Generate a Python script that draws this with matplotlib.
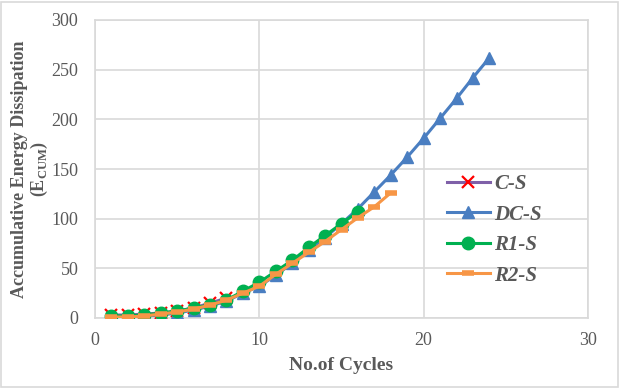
import matplotlib
matplotlib.use("Agg")
import matplotlib.pyplot as plt

cycles_cs = [1, 2, 3, 4, 5, 6, 7, 8]
cs = [3, 3, 4, 5, 7, 10, 15, 20]

cycles_dc = list(range(1, 25))
dc = [0, 0, 2, 3, 5, 8, 12, 17, 25, 32, 43, 55, 68, 81, 95, 110, 127, 144, 162, 181, 201, 221, 242, 262]

cycles_r1 = list(range(1, 17))
r1 = [2, 2, 3, 5, 7, 10, 13, 18, 27, 36, 47, 58, 71, 83, 95, 107]

cycles_r2 = list(range(1, 19))
r2 = [1, 1, 2, 4, 6, 9, 13, 18, 25, 32, 44, 55, 66, 77, 89, 101, 112, 126]

xticks = [0, 10, 20, 30]
yticks = [0, 50, 100, 150, 200, 250, 300]

plt.rcParams['font.family'] = ['Liberation Serif', 'DejaVu Serif']
plt.rcParams['mathtext.fontset'] = 'custom'
plt.rcParams['mathtext.rm'] = 'Liberation Serif:bold'
plt.rcParams['mathtext.bf'] = 'Liberation Serif:bold'

gray = '#595959'
fig = plt.figure(figsize=(6.2, 3.88), dpi=100)
ax = fig.add_axes([95/620, 1-318/388, (588-95)/620, (318-20)/388])

ax.plot(cycles_cs, cs, color='#7F60A8', lw=2.2, marker='x', ms=8, mec='#FF0000', mew=1.6, label='C-S', zorder=3)
ax.plot(cycles_dc, dc, color='#4A7EC1', lw=2.2, marker='^', ms=9, mec='#4A7EC1', mfc='#4A7EC1', label='DC-S', zorder=4)
ax.plot(cycles_r1, r1, color='#00B050', lw=2.2, marker='o', ms=9, label='R1-S', zorder=5)
ax.plot(cycles_r2, r2, color='#F79646', lw=2.2, marker='_', ms=8, mew=4, label='R2-S', zorder=6)

ax.set_xlim(0, 30)
ax.set_ylim(0, 300)
ax.set_xticks(xticks)
ax.set_yticks(yticks)
ax.grid(True, color='#D9D9D9', lw=1.2)
ax.set_axisbelow(True)
for s in ax.spines.values():
    s.set_color('#D9D9D9')
    s.set_linewidth(1.2)
ax.tick_params(length=0, labelsize=13, labelcolor=gray)
ax.tick_params(axis='y', pad=12)
ax.tick_params(axis='x', pad=10)

ax.set_xlabel('No.of Cycles', fontsize=14, fontweight='bold', color=gray, labelpad=6)
ax.set_ylabel('Accumulative Energy Dissipation\n(E$_{\\mathbf{CUM}}$)', fontsize=13, fontweight='bold', color=gray, linespacing=1.1)
ax.yaxis.set_label_coords(-0.091, 0.5)

leg = ax.legend(loc='upper left', bbox_to_anchor=(0.675, 0.545), frameon=False,
                prop={'family': 'Liberation Serif', 'weight': 'bold', 'style': 'italic', 'size': 15},
                handlelength=2.1, labelspacing=0.5, handletextpad=0.2)
for t in leg.get_texts():
    t.set_color(gray)

fig.patches.append(plt.Rectangle((0.002, 0.003), 0.995, 0.993, transform=fig.transFigure,
                                 fill=False, edgecolor='#D9D9D9', lw=1.2))
fig.savefig('out.png', dpi=100)
